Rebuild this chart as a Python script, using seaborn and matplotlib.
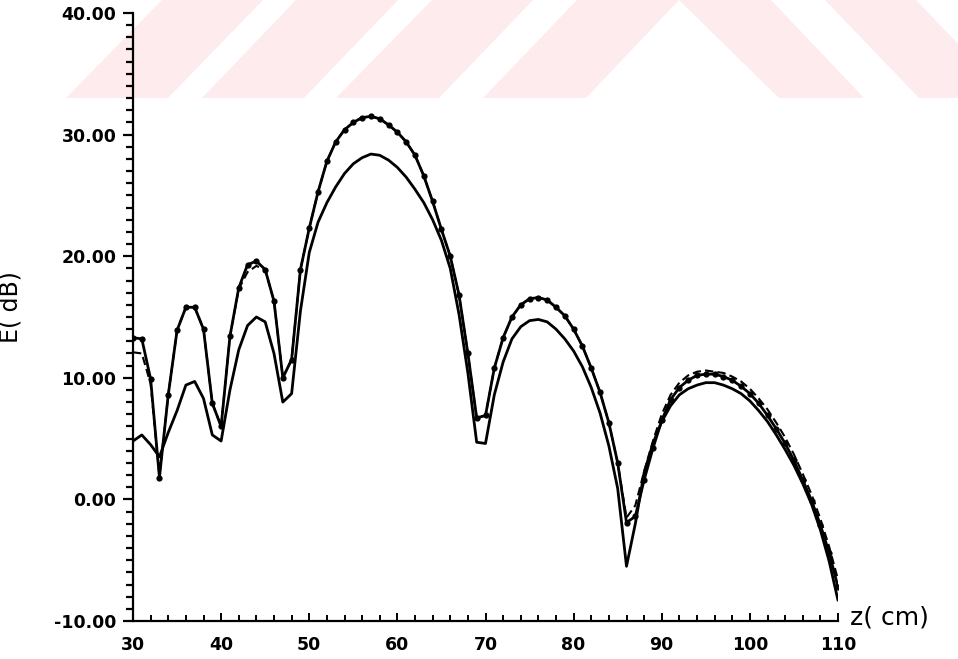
import matplotlib
matplotlib.use('Agg')
import matplotlib.pyplot as plt
from matplotlib.patches import Polygon
from matplotlib.ticker import MultipleLocator, FormatStrFormatter
import seaborn as sns

# field strength along the line (1 cm steps)
z_cm = list(range(30, 111))

measured_db = [
    13.3, 13.2, 9.9, 1.8, 8.6, 13.9, 15.8, 15.8, 14.0, 7.9,      # 30-39
    6.0, 13.4, 17.4, 19.3, 19.6, 18.9, 16.3, 10.0, 11.5, 18.9,   # 40-49
    22.3, 25.3, 27.8, 29.4, 30.4, 31.0, 31.4, 31.5, 31.3, 30.8,  # 50-59
    30.2, 29.4, 28.3, 26.6, 24.5, 22.2, 20.0, 16.8, 12.0, 6.7,   # 60-69
    6.9, 10.8, 13.3, 15.0, 16.0, 16.5, 16.6, 16.4, 15.8, 15.1,   # 70-79
    14.0, 12.6, 10.8, 8.8, 6.3, 3.0, -1.9, -1.4, 1.6, 4.2,       # 80-89
    6.5, 8.2, 9.2, 9.8, 10.2, 10.3, 10.3, 10.1, 9.8, 9.3,        # 90-99
    8.7, 7.9, 6.9, 5.8, 4.6, 3.2, 1.6, -0.1, -2.1, -4.4,         # 100-109
    -7.2,                                                        # 110
]

dashed_db = [
    12.1, 12.0, 9.5, 1.9, 8.6, 13.9, 15.8, 15.8, 14.0, 7.9,
    6.0, 13.4, 17.3, 18.7, 19.2, 18.9, 16.3, 10.0, 11.5, 18.9,
    22.3, 25.3, 27.8, 29.4, 30.4, 31.0, 31.4, 31.5, 31.3, 30.8,
    30.2, 29.4, 28.3, 26.6, 24.5, 22.2, 20.0, 16.8, 12.0, 6.7,
    6.9, 10.8, 13.3, 15.0, 16.0, 16.5, 16.6, 16.4, 15.8, 15.1,
    14.0, 12.6, 10.8, 8.8, 6.3, 3.0, -1.5, -0.5, 2.3, 4.8,
    7.0, 8.6, 9.6, 10.2, 10.5, 10.6, 10.5, 10.4, 10.1, 9.7,
    9.1, 8.3, 7.4, 6.3, 5.1, 3.7, 2.1, 0.4, -1.6, -3.9,
    -6.6,
]

theory_db = [
    4.8, 5.3, 4.5, 3.5, 5.5, 7.3, 9.4, 9.7, 8.3, 5.3,
    4.8, 9.0, 12.3, 14.3, 15.0, 14.6, 12.0, 8.0, 8.7, 15.5,
    20.3, 22.8, 24.4, 25.7, 26.8, 27.6, 28.1, 28.4, 28.3, 27.9,
    27.3, 26.5, 25.5, 24.4, 23.0, 21.3, 19.0, 15.2, 10.4, 4.7,
    4.6, 8.6, 11.3, 13.2, 14.2, 14.7, 14.8, 14.6, 14.0, 13.2,
    12.2, 10.9, 9.2, 7.1, 4.4, 0.9, -5.5, -2.0, 2.2, 4.6,
    6.4, 7.7, 8.6, 9.1, 9.4, 9.6, 9.6, 9.4, 9.1, 8.7,
    8.1, 7.3, 6.4, 5.3, 4.1, 2.8, 1.3, -0.4, -2.5, -5.1,
    -8.3,
]

sns.set_style('ticks')
plt.rcParams['font.family'] = ['DejaVu Sans']
for key in ['text.color', 'axes.labelcolor', 'xtick.color', 'ytick.color', 'axes.edgecolor']:
    plt.rcParams[key] = 'black'

W, H = 958, 659
fig = plt.figure(figsize=(W / 100, H / 100), dpi=100)

# faint pink watermark band across the top (pixel outlines)
stripes = [
    [(66, 98), (168, 98), (263, 0), (162, 0)],
    [(202, 98), (304, 98), (398, 0), (296, 0)],
    [(336, 98), (439, 98), (533, 0), (432, 0)],
    [(483, 98), (586, 98), (679, 0), (577, 0)],
    [(679, 0), (771, 0), (864, 98), (779, 98)],
    [(825, 0), (916, 0), (1010, 98), (919, 98)],
]
for pts in stripes:
    fig.patches.append(Polygon([(x / W, 1 - y / H) for x, y in pts], closed=True,
                               transform=fig.transFigure, facecolor='#fdebee',
                               edgecolor='none', zorder=-1))

ax = fig.add_axes([133 / W, 1 - 621 / H, 705 / W, 608 / H])
ax.set_facecolor('none')

sns.lineplot(x=z_cm, y=theory_db, color='black', lw=2.0, ax=ax)
sns.lineplot(x=z_cm, y=dashed_db, color='black', lw=1.5, linestyle=(0, (4, 2)), ax=ax)
sns.lineplot(x=z_cm, y=measured_db, color='black', lw=2.0, marker='o',
             markersize=4.5, markeredgewidth=0, ax=ax)

ax.set_xlim(30, 110)
ax.set_ylim(-10, 40)
sns.despine(ax=ax)
for s in ['left', 'bottom']:
    ax.spines[s].set_linewidth(1.6)

ax.xaxis.set_major_locator(MultipleLocator(10))
ax.xaxis.set_minor_locator(MultipleLocator(2))
ax.yaxis.set_major_locator(MultipleLocator(10))
ax.yaxis.set_minor_locator(MultipleLocator(1))
ax.yaxis.set_major_formatter(FormatStrFormatter('%.2f'))

ax.tick_params(axis='x', which='both', direction='in', width=1.4, pad=11,
               labelsize=12.5)
ax.tick_params(axis='x', which='major', length=6)
ax.tick_params(axis='x', which='minor', length=4)
ax.tick_params(axis='y', which='both', direction='out', width=1.6, pad=5,
               labelsize=12.5)
ax.tick_params(axis='y', which='major', length=7)
ax.tick_params(axis='y', which='minor', length=5)
for lbl in ax.get_xticklabels() + ax.get_yticklabels():
    lbl.set_fontweight('bold')

ax.set_xlabel('z( cm)', fontsize=18)
ax.xaxis.set_label_coords(1.017, 0.006)
ax.xaxis.label.set_ha('left')
ax.xaxis.label.set_va('center')
ax.set_ylabel('E( dB)', fontsize=17)
ax.yaxis.set_label_coords(-0.157, 0.516)

fig.savefig('out.png', dpi=100)
